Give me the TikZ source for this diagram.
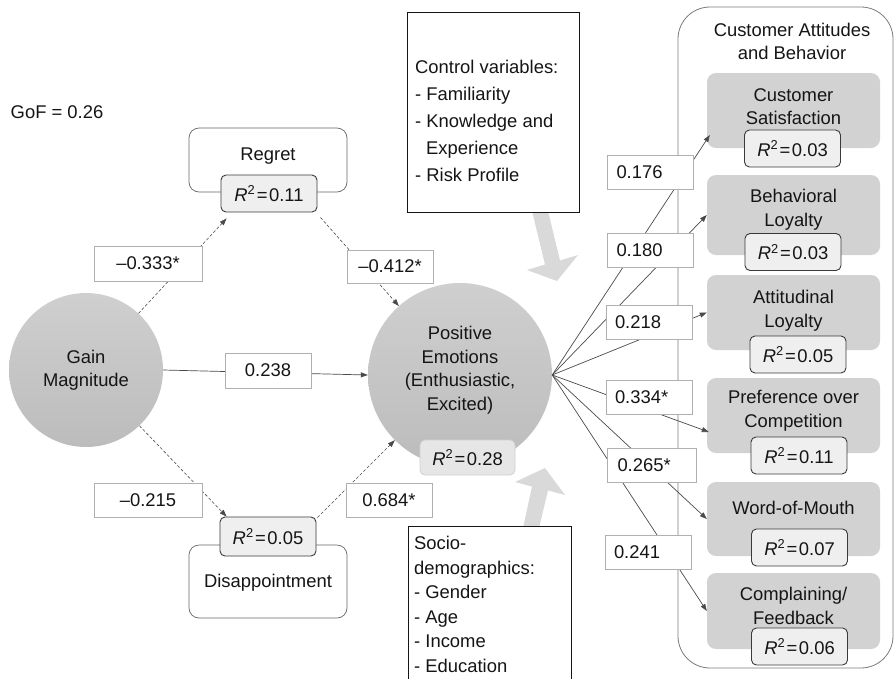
\documentclass[tikz,border=0pt]{standalone}
\usepackage{fontspec}
\setmainfont{Liberation Sans}
\usetikzlibrary{arrows.meta,calc}
\definecolor{ink}{HTML}{151515}
\definecolor{labline}{HTML}{B0B0B0}
\definecolor{rsqline}{HTML}{3A3A3A}
\definecolor{rsqfill}{HTML}{EFEFEF}
\definecolor{boxline}{HTML}{666666}
\definecolor{inboxfill}{HTML}{D2D2D2}
\definecolor{circtop}{HTML}{CFCFCF}
\definecolor{circbot}{HTML}{BCBCBC}
\definecolor{edgecol}{HTML}{4A4A4A}
\definecolor{bigarrow}{HTML}{D9D9D9}
\definecolor{posRfill}{HTML}{E6E6E6}
\definecolor{posRline}{HTML}{D0D0D0}
\definecolor{contline}{HTML}{7A7A7A}
\newcommand{\rsqtxt}[1]{\textit{R}\textsuperscript{2}\kern1.5pt=\kern1.5pt#1}
\begin{document}
\begin{tikzpicture}[x=1pt,y=-1pt,
  every node/.style={font=\fontsize{18.4}{23.5}\selectfont, text=ink, inner sep=0pt},
  lab/.style={draw=labline, fill=white, line width=0.8pt, minimum width=86pt, minimum height=34pt},
  rlab/.style={lab, align=left, text width=68pt},
  rsq/.style={draw=rsqline, fill=rsqfill, rounded corners=5pt, line width=0.9pt, minimum width=96pt, minimum height=37pt},
  outerbox/.style={draw=boxline, fill=white, rounded corners=10pt, line width=0.7pt},
  inbox/.style={fill=inboxfill, rounded corners=9pt, minimum width=173pt},
  bubble/.style={circle, top color=circtop, bottom color=circbot},
  textbox/.style={draw=ink, fill=white, line width=0.9pt, anchor=north west},
  dedge/.style={draw=edgecol, line width=0.6pt, dash pattern=on 3pt off 2pt, -{Triangle[length=7pt,width=5pt]}},
  sedge/.style={draw=edgecol, line width=0.7pt, -{Triangle[length=7pt,width=5pt]}},
]
\useasboundingbox (0,0) rectangle (895,678);
\clip (0,0) rectangle (895,678);

% right container
\draw[draw=contline, line width=0.8pt, rounded corners=32pt] (678,7) rectangle (893,668);
\node[align=center] (title) at (792,41.5) {Customer Attitudes\\and Behavior};

% inner boxes
\node[inbox, minimum height=75pt] (cs) at (793.5,110.5) {};
\node[align=center] (csT) at (793.5,106.5) {Customer\\Satisfaction};
\node[rsq] (csR) at (792.5,148.5) {\rsqtxt{0.03}};

\node[inbox, minimum height=80pt] (bl) at (793.5,215) {};
\node[align=center] (blT) at (793.5,209.5) {Behavioral\\Loyalty};
\node[rsq] (blR) at (793,252) {\rsqtxt{0.03}};

\node[inbox, minimum height=75pt] (al) at (793.5,312.5) {};
\node[align=center] (alT) at (793.5,310.5) {Attitudinal\\Loyalty};
\node[rsq] (alR) at (798,354.5) {\rsqtxt{0.05}};

\node[inbox, minimum height=75pt] (pc) at (793.5,415.5) {};
\node[align=center] (pcT) at (793.5,410.5) {Preference over\\Competition};
\node[rsq] (pcR) at (799,455.5) {\rsqtxt{0.11}};

\node[inbox, minimum height=74pt] (wm) at (793.5,519) {};
\node (wmT) at (793.5,508) {Word-of-Mouth};
\node[rsq] (wmR) at (799.5,547.5) {\rsqtxt{0.07}};

\node[inbox, minimum height=76pt] (cf) at (793.5,611) {};
\node[align=center] (cfT) at (793.5,606) {Complaining/\\Feedback};
\node[rsq] (cfR) at (799.5,646.5) {\rsqtxt{0.06}};

% big gray arrows
\fill[bigarrow] (532,211) -- (548,211) -- (560,260.5) -- (578,255) -- (557,281) -- (527,270) -- (545,264.5) -- cycle;
\fill[bigarrow] (523,528) -- (532,486.6) -- (515,482) -- (545,468) -- (565,495) -- (548,490.4) -- (539,528) -- cycle;

% control variables box
\node[textbox, minimum width=172pt, minimum height=200pt] (ctrl) at (407,12) {};
\node[anchor=north west, align=left, font=\fontsize{18.4}{27}\selectfont] (ctrlT) at (415,60)
  {Control variables:\\- Familiarity\\- Knowledge and\\\hspace*{11pt}Experience\\- Risk Profile};

% socio-demographics box
\node[textbox, minimum width=163pt, minimum height=180pt] (socio) at (408,526) {};
\node[anchor=north west, align=left, font=\fontsize{18.4}{24.6}\selectfont] (socioT) at (414,536)
  {Socio-\\demographics:\\- Gender\\- Age\\- Income\\- Education};

% GoF
\node (gof) at (57,112) {GoF = 0.26};

% circles
\node[bubble, minimum size=154pt, align=center] (gain) at (86,370) {Gain\\Magnitude};
\node[bubble, minimum size=184pt] (pos) at (460,375) {};
\node[align=center] (posT) at (460,370) {Positive\\Emotions\\(Enthusiastic,\\Excited)};
\node[draw=posRline, fill=posRfill, rounded corners=5pt, line width=0.8pt, minimum width=95pt, minimum height=35pt] (posR) at (467.5,457.5) {\rsqtxt{0.28}};

% regret / disappointment
\node[outerbox, minimum width=158pt, minimum height=64pt] (reg) at (268,160) {};
\node (regT) at (268,156) {Regret};
\node[rsq] (regR) at (269,193.5) {\rsqtxt{0.11}};

\node[outerbox, minimum width=158pt, minimum height=73pt] (dis) at (268,581.5) {};
\node (disT) at (268,583) {Disappointment};
\node[rsq, minimum height=39pt] (disR) at (268,536.5) {\rsqtxt{0.05}};

% connectors
\draw[dedge] (gain) -- ($(regR.south west)+(6,6)$);
\draw[dedge] ($(regR.south east)+(3,5)$) -- (pos);
\draw[sedge] (gain.east) -- (pos.west);
\draw[dedge] (gain) -- ($(disR.north west)+(7,0)$);
\draw[dedge] ($(disR.north east)+(1,1)$) -- (pos);

\coordinate (hub) at (pos.east);
\draw[sedge] (hub) -- ($(cs.west)+(3,24.5)$);
\draw[sedge] (hub) -- (bl.west);
\draw[sedge] (hub) -- (al.west);
\draw[sedge] (hub) -- ($(pc.west)+(2,16.5)$);
\draw[sedge] (hub) -- (wm.west);
\draw[sedge] (hub) -- (cf.west);

% path labels
\node[lab, minimum width=108pt, minimum height=35pt] (l1) at (148,263.5) {–0.333*};
\node[lab, minimum height=33pt] (l2) at (390,266.5) {–0.412*};
\node[lab, minimum height=35pt] (l3) at (268,370.5) {0.238};
\node[lab, minimum width=108pt] (l4) at (148,500) {–0.215};
\node[lab] (l5) at (389,500) {0.684*};

\node[rlab] (r1) at (650.5,172.5) {0.176};
\node[rlab] (r2) at (650.5,250) {0.180};
\node[rlab] (r3) at (649,322.5) {0.218};
\node[rlab] (r4) at (649,397) {0.334*};
\node[rlab, minimum width=89pt] (r5) at (651.5,465) {0.265*};
\node[rlab] (r6) at (648,552.5) {0.241};
\end{tikzpicture}
\end{document}
